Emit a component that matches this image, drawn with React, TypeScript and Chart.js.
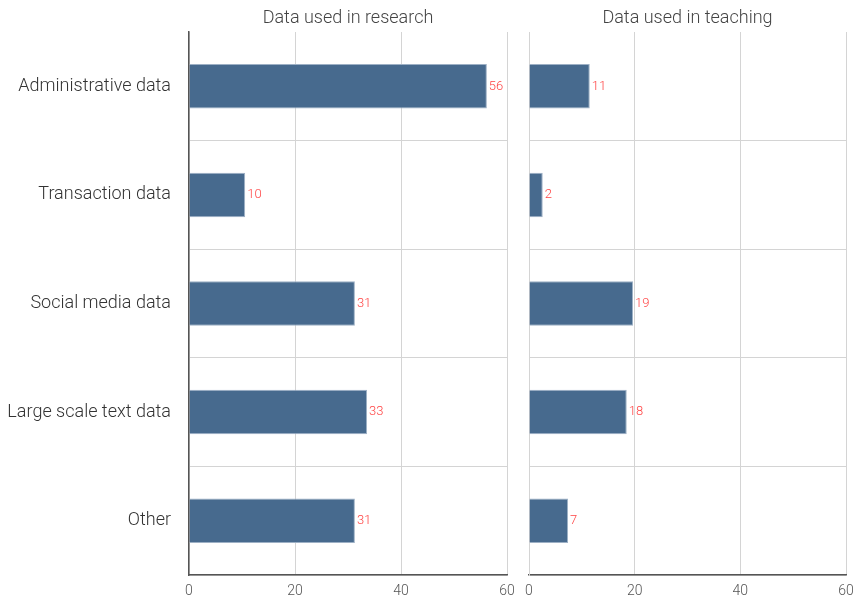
import React, { useEffect, useRef } from "react";
import { Chart, registerables } from "chart.js";

Chart.register(...registerables);

const categories = [
  "Administrative data",
  "Transaction data",
  "Social media data",
  "Large scale text data",
  "Other",
];
const researchValues = [56.2, 10.6, 31.3, 33.6, 31.3];
const teachingValues = [11.5, 2.6, 19.7, 18.5, 7.4];
const xTicks = [0, 20, 40, 60];
const panelTitles = ["Data used in research", "Data used in teaching"];

const FONT = "Roboto";
const BAR = "#476a8e";
const GRID = "#d4d4d4";
const AXIS = "#555555";

function makeConfig(values: number[], title: string, isLeft: boolean): any {
  const titlePlugin = {
    id: "panelTitle",
    afterDraw(chart: any) {
      const { ctx, chartArea } = chart;
      ctx.save();
      ctx.font = `300 18px ${FONT}`;
      ctx.fillStyle = "#444";
      ctx.textAlign = "center";
      ctx.textBaseline = "middle";
      ctx.fillText(title, (chartArea.left + chartArea.right) / 2, 18);
      ctx.restore();
    },
  };
  const valueLabels = {
    id: "valueLabels",
    afterDatasetsDraw(chart: any) {
      const { ctx } = chart;
      const meta = chart.getDatasetMeta(0);
      ctx.save();
      ctx.font = `300 13px ${FONT}`;
      ctx.fillStyle = "#ff4444";
      ctx.textAlign = "left";
      ctx.textBaseline = "middle";
      meta.data.forEach((bar: any, i: number) => {
        ctx.fillText(String(Math.floor(values[i])), bar.x + 2, bar.y);
      });
      ctx.restore();
    },
  };
  return {
    type: "bar",
    data: {
      labels: categories,
      datasets: [
        {
          data: values,
          backgroundColor: BAR,
          borderColor: "#9db0c5",
          borderWidth: 1,
          barPercentage: 0.41,
          categoryPercentage: 1,
        },
      ],
    },
    options: {
      indexAxis: "y",
      responsive: false,
      maintainAspectRatio: false,
      animation: false,
      layout: { padding: { top: 32, right: isLeft ? 13 : 15, bottom: 0, left: 0 } },
      plugins: { legend: { display: false }, tooltip: { enabled: false }, title: { display: false } },
      scales: {
        x: {
          min: 0,
          max: 60,
          afterBuildTicks: (scale: any) => {
            scale.ticks = xTicks.map((v) => ({ value: v }));
          },
          afterFit: (scale: any) => {
            scale.height = 22;
            scale.paddingLeft = 0;
            scale.paddingRight = 0;
          },
          grid: { color: GRID, drawTicks: false, lineWidth: 1 },
          border: { color: AXIS, width: 1.5 },
          ticks: {
            color: "#555",
            font: { family: FONT, size: 14, weight: "300" },
            padding: 8,
            maxRotation: 0,
          },
        },
        y: {
          afterFit: (scale: any) => {
            scale.width = isLeft ? 189 : 14;
            scale.paddingTop = 0;
            scale.paddingBottom = 0;
          },
          grid: {
            offset: true,
            drawTicks: false,
            color: (ctx: any) => (ctx.index === 0 ? "rgba(0,0,0,0)" : GRID),
          },
          border: { color: isLeft ? AXIS : GRID, width: isLeft ? 1.5 : 1 },
          ticks: {
            display: isLeft,
            color: "#333",
            font: { family: FONT, size: 18, weight: "300" },
            padding: 18,
          },
        },
      },
    },
    plugins: [titlePlugin, valueLabels],
  };
}

function Panel({ values, title, isLeft, left, width }: any) {
  const ref = useRef<HTMLCanvasElement | null>(null);
  useEffect(() => {
    if (!ref.current) return;
    const chart = new Chart(ref.current, makeConfig(values, title, isLeft));
    return () => chart.destroy();
  }, []);
  return (
    <canvas
      ref={ref}
      width={width}
      height={597}
      style={{ position: "absolute", left, top: 0, width, height: 597 }}
    />
  );
}

export default function App() {
  return (
    <div style={{ position: "absolute", left: 0, top: 0, width: 861, height: 597, background: "#fff" }}>
      <Panel values={researchValues} title={panelTitles[0]} isLeft={true} left={0} width={520} />
      <Panel values={teachingValues} title={panelTitles[1]} isLeft={false} left={515} width={346} />
    </div>
  );
}
